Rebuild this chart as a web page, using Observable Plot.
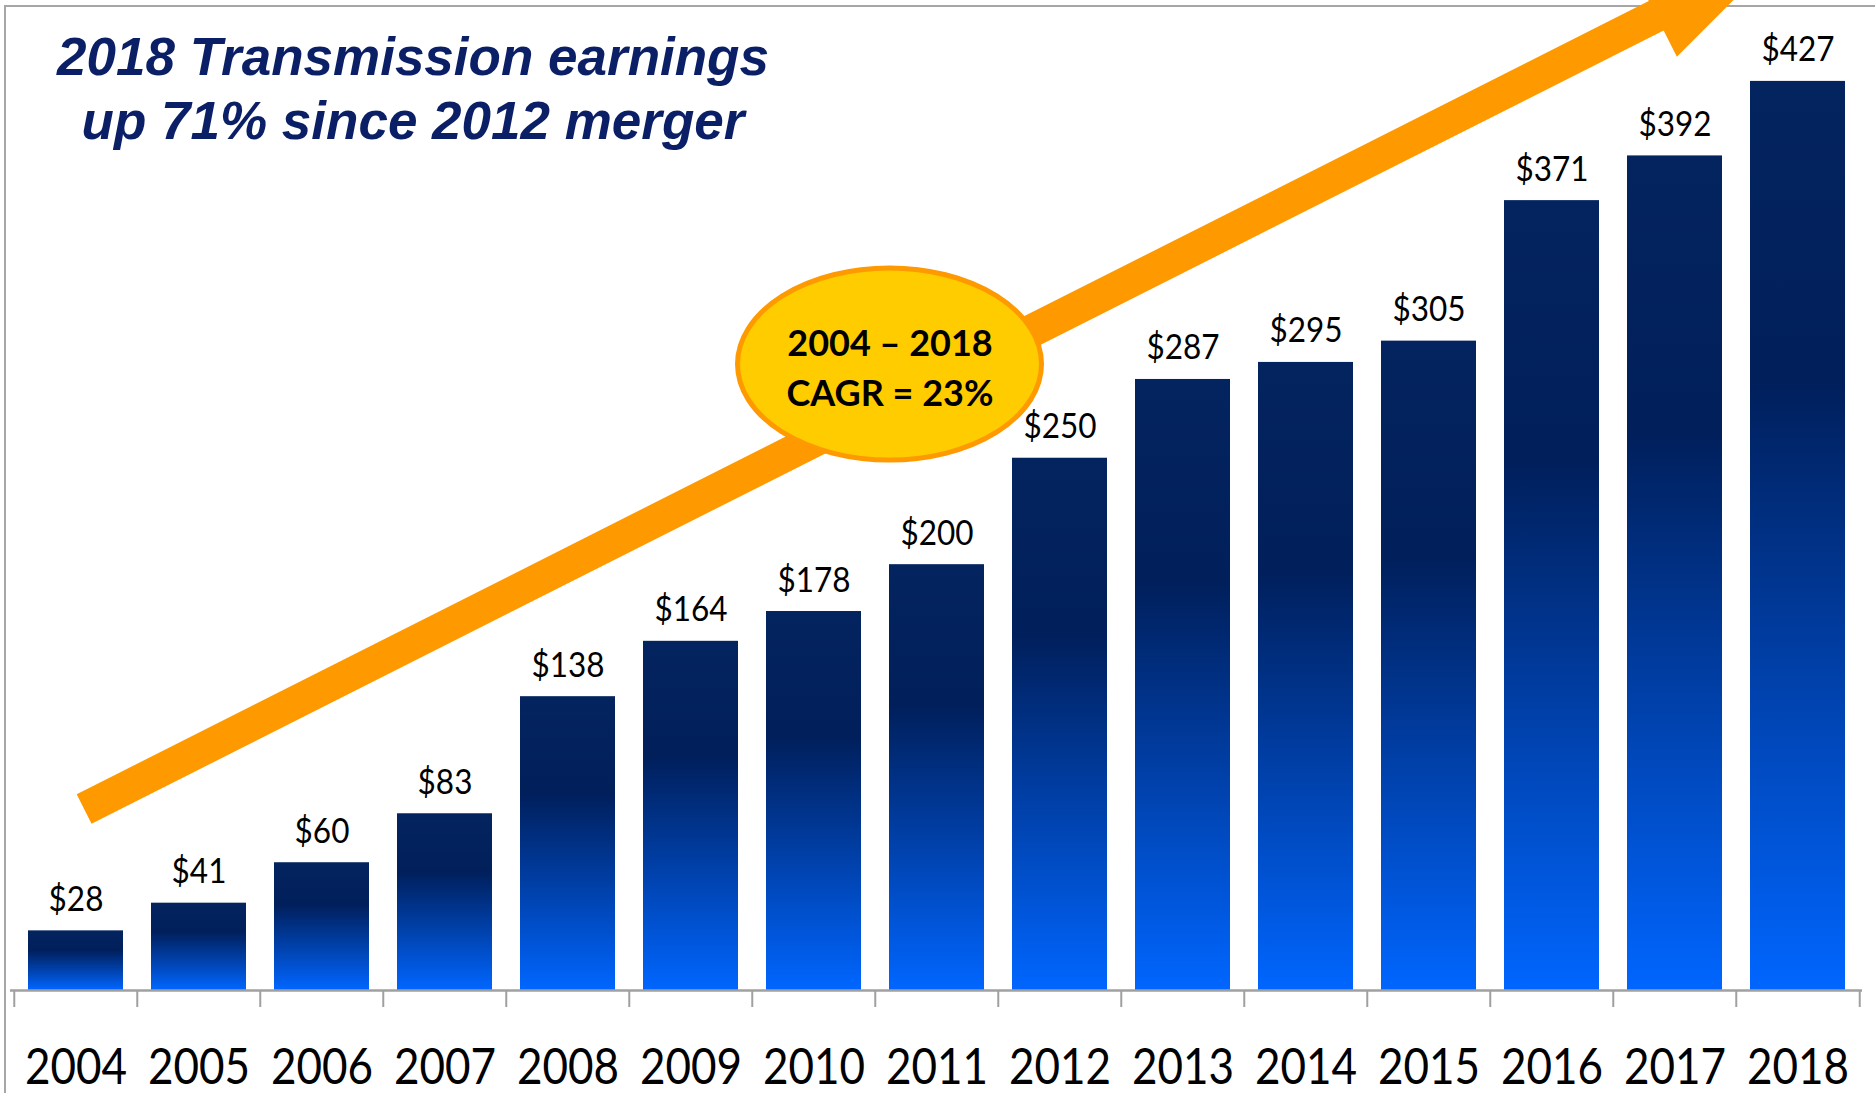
<!DOCTYPE html>
<html>
<head>
<meta charset="utf-8">
<script src="https://cdn.jsdelivr.net/npm/d3@7"></script>
<script src="https://cdn.jsdelivr.net/npm/@observablehq/plot@0.6"></script>
<style>
  html, body { margin: 0; padding: 0; background: #fff; }
  #wrap { position: relative; width: 1875px; height: 1093px; overflow: hidden; background: #fff; }
  #frame { position: absolute; left: 4px; top: 5px; right: -4px; bottom: -4px;
           border-left: 2px solid #a6a6a6; border-top: 2px solid #a6a6a6; }
  #chart { position: absolute; left: 0; top: 0; }
  #title { position: absolute; left: 0; top: 25px; width: 826px; text-align: center;
           font-family: "Liberation Sans", Arial, sans-serif; font-weight: bold; font-style: italic;
           font-size: 53px; line-height: 64px; color: #0a1f66; }
</style>
</head>
<body>
<div id="wrap">
  <div id="frame"></div>
  <div id="chart"></div>
  <div id="title">2018 Transmission earnings<br>up 71% since 2012 merger</div>
</div>
<script>
// ---- data ----
const years = ["2004","2005","2006","2007","2008","2009","2010","2011","2012","2013","2014","2015","2016","2017","2018"];
const earnings = [28, 41, 60, 83, 138, 164, 178, 200, 250, 287, 295, 305, 371, 392, 427];
const valueLabels = earnings.map(v => "$" + v);
const cagrText = "2004 – 2018\nCAGR = 23%";

// annotation anchors (in data space)
const badge = {year: "2011", value: 294, text: cagrText};
const arrowFrom = {year: "2004", frac: 0.57, value: 85};
const arrowTo = {year: "2018", frac: 0.36, value: 487};

const rows = years.map((year, i) => ({year, value: earnings[i], label: valueLabels[i]}));

// ---- layout ----
const W = 1875, H = 1093, mL = 10, mR = 13, mT = 0, mB = 86;
const step = (W - mL - mR) / years.length;
const axisGray = "#a0a0a0";
const orange = "#FF9900";
const labelFont = "Lato, 'Open Sans', sans-serif";

function annotations(index, scales) {
  const {x, y} = scales;
  const bw = x.bandwidth ? x.bandwidth() : 0;
  const g = d3.create("svg:g");
  // arrow
  const x0 = x(arrowFrom.year) + arrowFrom.frac * bw, y0 = y(arrowFrom.value);
  const x1 = x(arrowTo.year) + arrowTo.frac * bw, y1 = y(arrowTo.value);
  const L = Math.hypot(x1 - x0, y1 - y0);
  const ux = (x1 - x0) / L, uy = (y1 - y0) / L;
  const nx = -uy, ny = ux;
  const w = 16.5, hw = 46, hl = 139;
  const bx = x1 - ux * hl, by = y1 - uy * hl;
  const pts = [
    [x0 + nx * w, y0 + ny * w], [bx + nx * w, by + ny * w], [bx + nx * hw, by + ny * hw],
    [x1, y1],
    [bx - nx * hw, by - ny * hw], [bx - nx * w, by - ny * w], [x0 - nx * w, y0 - ny * w]
  ];
  g.append("path").attr("d", "M" + pts.map(p => p.join(",")).join("L") + "Z").attr("fill", orange);
  // ellipse badge
  const cx = x(badge.year) + bw / 2 - 47, cy = y(badge.value);
  g.append("ellipse").attr("cx", cx).attr("cy", cy).attr("rx", 152).attr("ry", 96)
    .attr("fill", "#FFCC00").attr("stroke", orange).attr("stroke-width", 5);
  return g.node();
}

const plot = Plot.plot({
  width: W, height: H,
  marginLeft: mL, marginRight: mR, marginTop: mT, marginBottom: mB,
  style: {background: "transparent", overflow: "hidden"},
  x: {type: "band", domain: years, padding: 0, axis: null},
  y: {domain: [-8, 465], axis: null},
  marks: [
    Plot.barY(rows, {x: "year", y: "value", fill: "url(#barGrad)", insetLeft: 14, insetRight: 14}),
    Plot.ruleY([0], {stroke: axisGray, strokeWidth: 2.5}),
    Plot.ruleX(years, {x: d => d, dx: -step / 2, y1: 0, y2: -8, stroke: axisGray, strokeWidth: 2}),
    Plot.ruleX([years[years.length - 1]], {x: d => d, dx: step / 2, y1: 0, y2: -8, stroke: axisGray, strokeWidth: 2}),
    // text mark #0: value labels
    Plot.text(rows, {x: "year", y: "value", text: "label", lineAnchor: "bottom", dy: -20,
      fontSize: 35, fontFamily: labelFont, fill: "#000"}),
    // text mark #1: year labels
    Plot.text(years, {x: d => d, text: d => d, frameAnchor: "bottom", lineAnchor: "bottom", dy: 76,
      fontSize: 50, fontFamily: labelFont, fill: "#000"}),
    annotations,
    // text mark #2: badge text
    Plot.text([badge], {x: "year", y: "value", text: "text", dx: -47, lineAnchor: "middle", lineHeight: 1.39,
      fontSize: 36, fontWeight: "bold", fontFamily: labelFont, fill: "#000"})
  ]
});

// gradient for bars
const svgSel = d3.select(plot);
const defs = svgSel.insert("defs", ":first-child");
const grad = defs.append("linearGradient").attr("id", "barGrad").attr("x1", 0).attr("y1", 0).attr("x2", 0).attr("y2", 1);
[[0, "#04245f"], [0.33, "#001f5b"], [0.68, "#0043b0"], [1, "#0066ff"]].forEach(([o, c]) =>
  grad.append("stop").attr("offset", o).attr("stop-color", c));

// horizontally condensed chart labels (as in the reference)
const textGroups = plot.querySelectorAll('g[aria-label="text"]');
function squash(group, s) {
  if (!group) return;
  group.querySelectorAll("text").forEach(t => {
    let tr = t.getAttribute("transform") || "";
    const xa = t.getAttribute("x"), ya = t.getAttribute("y");
    if ((xa && !isNaN(+xa)) || (ya && !isNaN(+ya))) {
      tr += ` translate(${+xa || 0},${+ya || 0})`;
      t.removeAttribute("x"); t.removeAttribute("y");
    }
    t.setAttribute("transform", `${tr} scale(${s},1)`);
  });
}
squash(textGroups[0], 0.9);
squash(textGroups[1], 0.88);

document.getElementById("chart").appendChild(plot);
</script>
</body>
</html>
